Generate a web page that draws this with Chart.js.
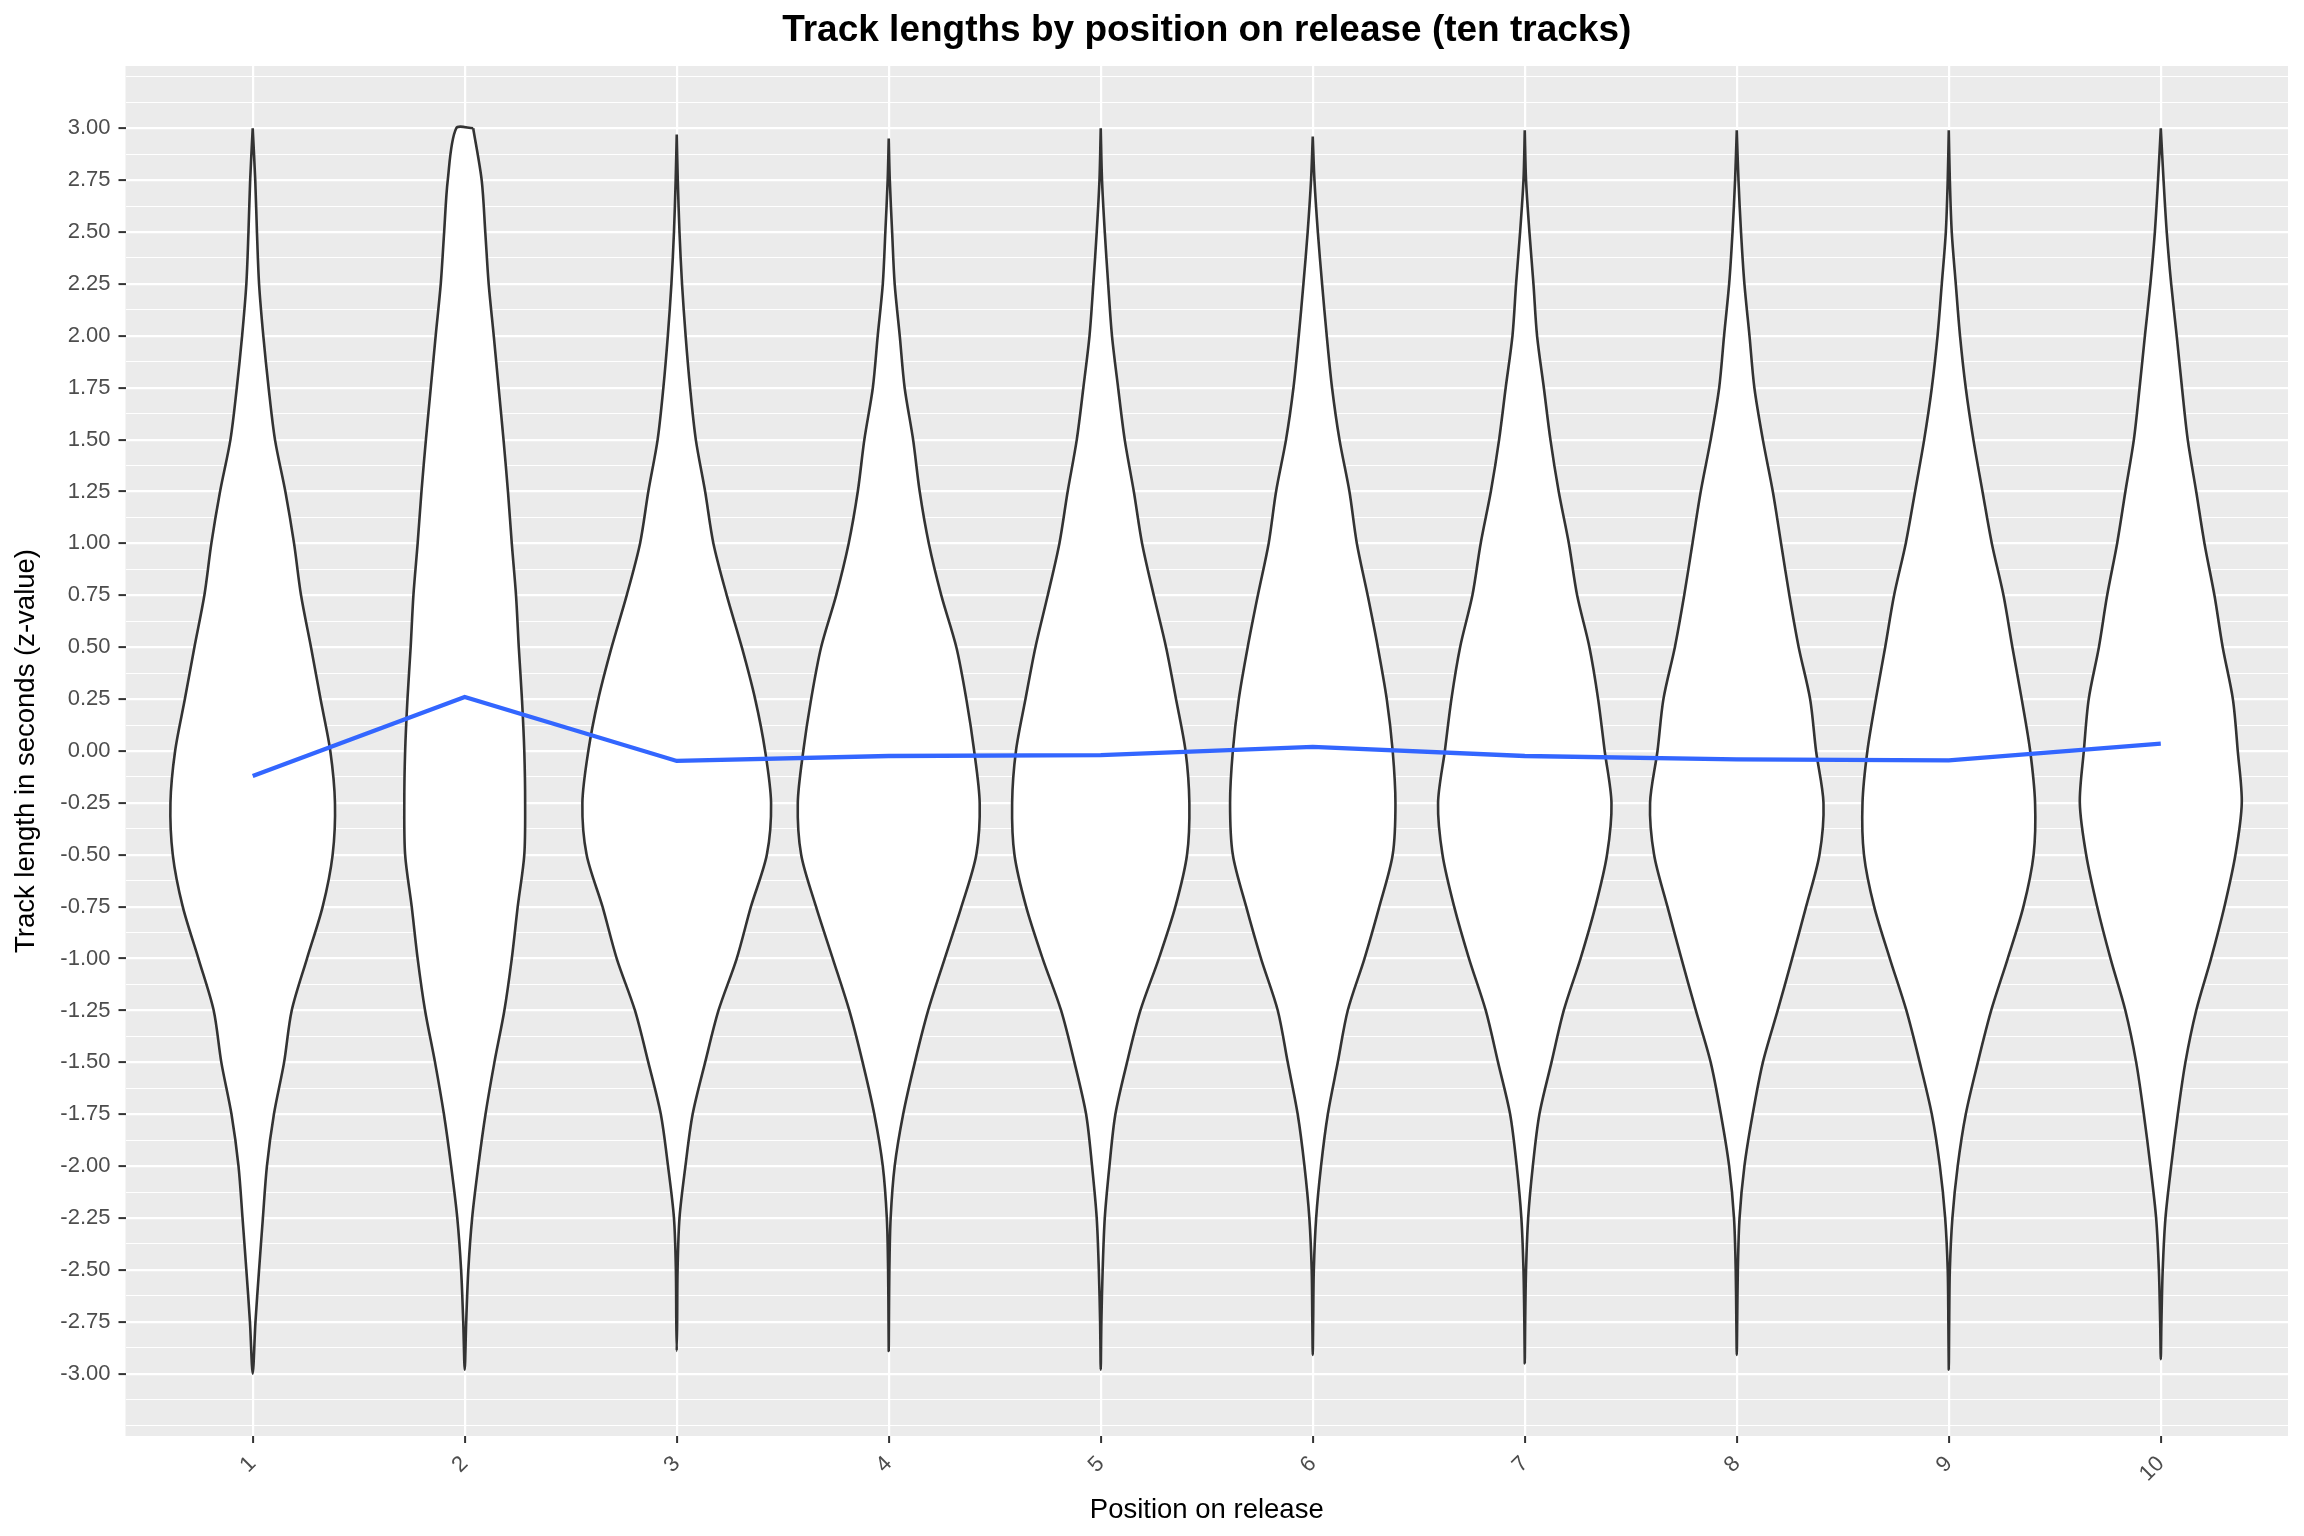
<!DOCTYPE html>
<html>
<head>
<meta charset="utf-8">
<script src="https://cdn.jsdelivr.net/npm/chart.js@4/dist/chart.umd.min.js"></script>
<style>
html,body{margin:0;padding:0;background:#ffffff;}
#wrap{width:2304px;height:1536px;position:relative;}
</style>
</head>
<body>
<div id="wrap"><canvas id="c"></canvas></div>
<script>
// ---------- data ----------
const positions = [1, 2, 3, 4, 5, 6, 7, 8, 9, 10];
const xTickLabels = ['1', '2', '3', '4', '5', '6', '7', '8', '9', '10'];

// y levels (z-value) at which violin half-widths were read
const levels = [2.75, 2.5, 2.25, 2.0, 1.75, 1.5, 1.25, 1.0, 0.75, 0.5, 0.25, 0.0,
                -0.25, -0.5, -0.75, -1.0, -1.25, -1.5, -1.75, -2.0, -2.25, -2.5, -2.75];

// half-widths of each violin (in category units) at the levels above
const violin1  = [0.012, 0.02, 0.03, 0.05, 0.075, 0.105, 0.154, 0.195, 0.228, 0.275, 0.32, 0.366, 0.388, 0.377, 0.33, 0.256, 0.184, 0.148, 0.10, 0.067, 0.048, 0.03, 0.013];
const violin2  = [0.08, 0.097, 0.113, 0.137, 0.16, 0.183, 0.204, 0.222, 0.242, 0.255, 0.27, 0.281, 0.285, 0.281, 0.25, 0.222, 0.187, 0.14, 0.098, 0.064, 0.035, 0.017, 0.007];
const violin3  = [0.005, 0.013, 0.025, 0.042, 0.063, 0.09, 0.134, 0.173, 0.236, 0.307, 0.37, 0.417, 0.445, 0.425, 0.35, 0.283, 0.197, 0.134, 0.075, 0.041, 0.013, 0.004, 0.002];
const violin4  = [0.005, 0.016, 0.028, 0.052, 0.075, 0.115, 0.146, 0.189, 0.248, 0.319, 0.366, 0.403, 0.429, 0.413, 0.343, 0.264, 0.186, 0.123, 0.068, 0.028, 0.009, 0.003, 0.001];
const violin5  = [0.006, 0.019, 0.035, 0.053, 0.082, 0.113, 0.156, 0.195, 0.25, 0.308, 0.355, 0.40, 0.418, 0.407, 0.352, 0.274, 0.187, 0.124, 0.069, 0.041, 0.019, 0.009, 0.003];
const violin6  = [0.008, 0.024, 0.044, 0.066, 0.091, 0.126, 0.173, 0.208, 0.259, 0.307, 0.349, 0.377, 0.39, 0.377, 0.314, 0.244, 0.165, 0.118, 0.071, 0.039, 0.016, 0.005, 0.002];
const violin7  = [0.006, 0.022, 0.041, 0.058, 0.09, 0.121, 0.16, 0.208, 0.247, 0.305, 0.346, 0.377, 0.409, 0.388, 0.333, 0.263, 0.184, 0.126, 0.069, 0.038, 0.016, 0.006, 0.002];
const violin8  = [0.008, 0.02, 0.036, 0.06, 0.083, 0.123, 0.17, 0.209, 0.248, 0.292, 0.346, 0.374, 0.409, 0.39, 0.327, 0.261, 0.193, 0.123, 0.075, 0.036, 0.013, 0.005, 0.002];
const violin9  = [0.005, 0.014, 0.033, 0.053, 0.08, 0.116, 0.159, 0.203, 0.258, 0.30, 0.344, 0.384, 0.407, 0.40, 0.352, 0.278, 0.20, 0.137, 0.08, 0.042, 0.017, 0.005, 0.002];
const violin10 = [0.013, 0.028, 0.049, 0.075, 0.10, 0.127, 0.167, 0.206, 0.253, 0.292, 0.34, 0.363, 0.382, 0.352, 0.30, 0.237, 0.167, 0.116, 0.08, 0.049, 0.022, 0.009, 0.003];

const violinTops      = [3.0, 3.0, 2.97, 2.95, 3.0, 2.96, 2.99, 2.99, 2.99, 3.0];
const violinBottoms   = [-3.0, -2.98, -2.89, -2.89, -2.98, -2.91, -2.95, -2.91, -2.98, -2.93];
const violinTopWidths = [0, 0.04, 0, 0, 0, 0, 0, 0, 0, 0];

// mean z-value per position (blue line)
const means = [-0.12, 0.26, -0.048, -0.024, -0.02, 0.02, -0.024, -0.04, -0.045, 0.036];

// ---------- build ----------
const FONT = "'Liberation Sans', Arial, Helvetica, sans-serif";
Chart.defaults.font.family = FONT;

const violins = [violin1, violin2, violin3, violin4, violin5, violin6, violin7, violin8, violin9, violin10];

function violinPoints(c, w, top, bottom, topW) {
  const pts = [];
  pts.push({x: c + topW, y: top});
  for (let i = 0; i < levels.length; i++) {
    const L = levels[i];
    if (L < top && L > bottom) pts.push({x: c + w[i], y: L});
  }
  pts.push({x: c, y: bottom});
  for (let i = levels.length - 1; i >= 0; i--) {
    const L = levels[i];
    if (L < top && L > bottom) pts.push({x: c - w[i], y: L});
  }
  pts.push({x: c - topW, y: top});
  if (topW > 0) pts.push({x: c + topW, y: top});
  return pts;
}

const datasets = [];
datasets.push({
  label: 'mean',
  data: positions.map((p, i) => ({x: p, y: means[i]})),
  borderColor: '#3366FF',
  borderWidth: 4.3,
  fill: false,
  pointRadius: 0,
  tension: 0,
  order: 0
});
positions.forEach((p, i) => {
  datasets.push({
    label: 'violin ' + p,
    data: violinPoints(p, violins[i], violinTops[i], violinBottoms[i], violinTopWidths[i]),
    borderColor: '#333333',
    borderWidth: 2.6,
    backgroundColor: '#FFFFFF',
    fill: 'shape',
    pointRadius: 0,
    tension: 0.3,
    borderJoinStyle: 'round',
    order: 1
  });
});

// grid values for y: majors every 0.25 in [-3,3], minors at the odd 1/8s, plus +/-3.25
const yGrid = [];
for (let k = -26; k <= 26; k++) yGrid.push(k * 0.125);
function isMajor(v) {
  return Math.abs(v * 4 - Math.round(v * 4)) < 1e-6 && Math.abs(v) <= 3.0001;
}

const panelBg = {
  id: 'panelBg',
  beforeDraw(chart) {
    const {ctx, chartArea: a} = chart;
    ctx.save();
    ctx.fillStyle = '#EBEBEB';
    ctx.fillRect(a.left, a.top, a.right - a.left, a.bottom - a.top);
    ctx.restore();
  }
};

new Chart(document.getElementById('c'), {
  type: 'line',
  data: {datasets},
  plugins: [panelBg],
  options: {
    responsive: true,
    maintainAspectRatio: false,
    animation: false,
    events: [],
    layout: {padding: {left: 0, right: 16, top: 0, bottom: 0}},
    plugins: {
      legend: {display: false},
      tooltip: {enabled: false},
      title: {
        display: true,
        text: 'Track lengths by position on release (ten tracks)',
        color: '#000000',
        font: {size: 37, weight: 'bold', family: FONT},
        padding: {top: 8.5, bottom: 13.1},
        fullSize: false
      }
    },
    scales: {
      x: {
        type: 'linear',
        min: 0.4,
        max: 10.6,
        afterBuildTicks: (s) => { s.ticks = positions.map(v => ({value: v})); },
        afterFit: (s) => { s.height = 100; },
        ticks: {
          callback: (v, i) => xTickLabels[i],
          minRotation: 45,
          maxRotation: 45,
          autoSkip: false,
          color: '#4D4D4D',
          font: {size: 22, family: FONT},
          padding: 8
        },
        grid: {
          color: '#FFFFFF',
          lineWidth: 2.2,
          tickLength: 7,
          tickColor: '#333333',
          tickWidth: 2
        },
        border: {display: false},
        title: {
          display: true,
          text: 'Position on release',
          color: '#000000',
          font: {size: 27.5, family: FONT},
          padding: {top: 0, bottom: 9.4}
        }
      },
      y: {
        type: 'linear',
        min: -3.3,
        max: 3.3,
        afterBuildTicks: (s) => { s.ticks = yGrid.map(v => ({value: v})); },
        afterFit: (s) => { s.width = 125.5; },
        ticks: {
          callback: (v) => isMajor(v) ? v.toFixed(2) : '',
          autoSkip: false,
          color: '#4D4D4D',
          font: {size: 22, family: FONT},
          padding: 8
        },
        grid: {
          color: '#FFFFFF',
          lineWidth: (ctx) => isMajor(ctx.tick.value) ? 2.2 : 1.1,
          tickLength: 7,
          tickColor: (ctx) => isMajor(ctx.tick.value) ? '#333333' : 'rgba(0,0,0,0)',
          tickWidth: 2
        },
        border: {display: false},
        title: {
          display: true,
          text: 'Track length in seconds (z-value)',
          color: '#000000',
          font: {size: 27.5, family: FONT},
          padding: {top: 10, bottom: 0}
        }
      }
    }
  }
});
</script>
</body>
</html>
